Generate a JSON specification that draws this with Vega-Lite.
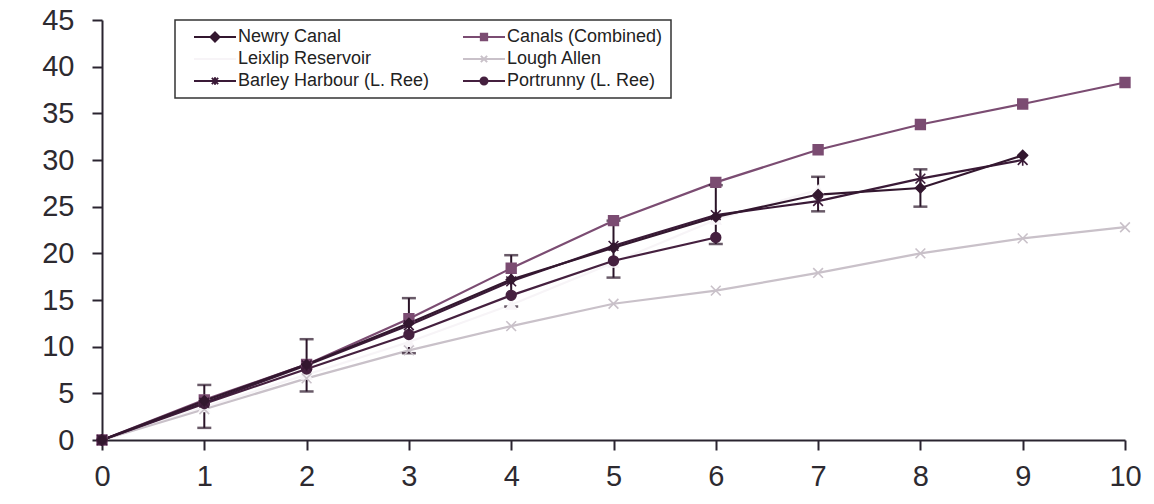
{
  "$schema": "https://vega.github.io/schema/vega-lite/v6.json",
  "width": 1023,
  "height": 420,
  "autosize": {"type": "none"},
  "padding": {"left": 102, "top": 20, "right": 29, "bottom": 64},
  "background": "white",
  "config": {
    "view": {"stroke": null},
    "font": "Liberation Sans",
    "axis": {
      "grid": false,
      "title": null,
      "domainColor": "#2a2430",
      "domainWidth": 2,
      "tickColor": "#2a2430",
      "tickWidth": 2,
      "tickSize": 10,
      "labelFont": "Liberation Sans",
      "labelFontSize": 29,
      "labelColor": "#2d2a30",
      "labelFlush": false,
      "labelOverlap": false
    },
    "legend": {"strokeWidth": 1.5}
  },
  "resolve": {
    "scale": {"shape": "independent"},
    "legend": {"color": "independent", "shape": "independent", "stroke": "independent"}
  },
  "datasets": {
    "series": [
      {"series": "Leixlip Reservoir", "x": 0, "y": 0},
      {"series": "Leixlip Reservoir", "x": 1, "y": 3.5},
      {"series": "Leixlip Reservoir", "x": 2, "y": 7.0},
      {"series": "Leixlip Reservoir", "x": 3, "y": 10.5},
      {"series": "Leixlip Reservoir", "x": 4, "y": 14.5},
      {"series": "Leixlip Reservoir", "x": 5, "y": 19.0},
      {"series": "Leixlip Reservoir", "x": 6, "y": 23.6},
      {"series": "Leixlip Reservoir", "x": 7, "y": 26.8},
      {"series": "Lough Allen", "x": 0, "y": 0},
      {"series": "Lough Allen", "x": 1, "y": 3.3},
      {"series": "Lough Allen", "x": 2, "y": 6.6},
      {"series": "Lough Allen", "x": 3, "y": 9.6},
      {"series": "Lough Allen", "x": 4, "y": 12.2},
      {"series": "Lough Allen", "x": 5, "y": 14.6},
      {"series": "Lough Allen", "x": 6, "y": 16.0},
      {"series": "Lough Allen", "x": 7, "y": 17.9},
      {"series": "Lough Allen", "x": 8, "y": 20.0},
      {"series": "Lough Allen", "x": 9, "y": 21.6},
      {"series": "Lough Allen", "x": 10, "y": 22.8},
      {"series": "Canals (Combined)", "x": 0, "y": 0},
      {"series": "Canals (Combined)", "x": 1, "y": 4.3},
      {"series": "Canals (Combined)", "x": 2, "y": 8.1},
      {"series": "Canals (Combined)", "x": 3, "y": 13.0},
      {"series": "Canals (Combined)", "x": 4, "y": 18.4},
      {"series": "Canals (Combined)", "x": 5, "y": 23.5},
      {"series": "Canals (Combined)", "x": 6, "y": 27.6},
      {"series": "Canals (Combined)", "x": 7, "y": 31.1},
      {"series": "Canals (Combined)", "x": 8, "y": 33.8},
      {"series": "Canals (Combined)", "x": 9, "y": 36.0},
      {"series": "Canals (Combined)", "x": 10, "y": 38.3},
      {"series": "Portrunny (L. Ree)", "x": 0, "y": 0},
      {"series": "Portrunny (L. Ree)", "x": 1, "y": 3.9},
      {"series": "Portrunny (L. Ree)", "x": 2, "y": 7.6},
      {"series": "Portrunny (L. Ree)", "x": 3, "y": 11.3},
      {"series": "Portrunny (L. Ree)", "x": 4, "y": 15.5},
      {"series": "Portrunny (L. Ree)", "x": 5, "y": 19.2},
      {"series": "Portrunny (L. Ree)", "x": 6, "y": 21.7},
      {"series": "Barley Harbour (L. Ree)", "x": 0, "y": 0},
      {"series": "Barley Harbour (L. Ree)", "x": 1, "y": 4.0},
      {"series": "Barley Harbour (L. Ree)", "x": 2, "y": 8.0},
      {"series": "Barley Harbour (L. Ree)", "x": 3, "y": 12.3},
      {"series": "Barley Harbour (L. Ree)", "x": 4, "y": 17.0},
      {"series": "Barley Harbour (L. Ree)", "x": 5, "y": 20.8},
      {"series": "Barley Harbour (L. Ree)", "x": 6, "y": 24.1},
      {"series": "Barley Harbour (L. Ree)", "x": 7, "y": 25.6},
      {"series": "Barley Harbour (L. Ree)", "x": 8, "y": 28.0},
      {"series": "Barley Harbour (L. Ree)", "x": 9, "y": 30.0},
      {"series": "Newry Canal", "x": 0, "y": 0},
      {"series": "Newry Canal", "x": 1, "y": 4.2},
      {"series": "Newry Canal", "x": 2, "y": 8.1},
      {"series": "Newry Canal", "x": 3, "y": 12.5},
      {"series": "Newry Canal", "x": 4, "y": 17.2},
      {"series": "Newry Canal", "x": 5, "y": 20.6},
      {"series": "Newry Canal", "x": 6, "y": 23.9},
      {"series": "Newry Canal", "x": 7, "y": 26.3},
      {"series": "Newry Canal", "x": 8, "y": 27.0},
      {"series": "Newry Canal", "x": 9, "y": 30.5}
    ],
    "err": [
      {"x": 1, "lo": 1.3, "hi": 5.9},
      {"x": 2, "lo": 5.2, "hi": 10.8},
      {"x": 3, "lo": 9.3, "hi": 15.2},
      {"x": 4, "lo": 14.3, "hi": 19.8},
      {"x": 5, "lo": 17.4, "hi": 23.5},
      {"x": 6, "lo": 21.0, "hi": 27.3},
      {"x": 7, "lo": 24.5, "hi": 28.2},
      {"x": 8, "lo": 25.0, "hi": 29.0}
    ]
  },
  "layer": [
    {
      "data": {"name": "series"},
      "mark": {"type": "line", "strokeWidth": 2.2},
      "encoding": {
        "x": {"field": "x", "type": "quantitative", "scale": {"domain": [0, 10], "nice": false},
              "axis": {"values": [0,1,2,3,4,5,6,7,8,9,10], "format": "d", "labelPadding": 12}},
        "y": {"field": "y", "type": "quantitative", "scale": {"domain": [0, 45], "nice": false},
              "axis": {"values": [0,5,10,15,20,25,30,35,40,45], "format": "d", "labelPadding": 18}},
        "color": {"field": "series", "type": "nominal", "legend": null,
          "scale": {
            "domain": ["Newry Canal", "Leixlip Reservoir", "Barley Harbour (L. Ree)", "Canals (Combined)", "Lough Allen", "Portrunny (L. Ree)"],
            "range": ["#33172f", "#f7f4f7", "#3a1a37", "#7b4c72", "#c9c1c9", "#45203f"]
          }},
        "order": {"field": "x", "type": "quantitative"}
      }
    },
    {
      "data": {"name": "err"},
      "mark": {"type": "rule", "color": "#2a1428", "strokeWidth": 2},
      "encoding": {
        "x": {"field": "x", "type": "quantitative"},
        "y": {"field": "lo", "type": "quantitative"},
        "y2": {"field": "hi"}
      }
    },
    {
      "data": {"name": "err"},
      "mark": {"type": "tick", "orient": "horizontal", "color": "#2a1428", "size": 14, "thickness": 2.5},
      "encoding": {
        "x": {"field": "x", "type": "quantitative"},
        "y": {"field": "lo", "type": "quantitative"}
      }
    },
    {
      "data": {"name": "err"},
      "mark": {"type": "tick", "orient": "horizontal", "color": "#2a1428", "size": 14, "thickness": 2.5},
      "encoding": {
        "x": {"field": "x", "type": "quantitative"},
        "y": {"field": "hi", "type": "quantitative"}
      }
    },
    {
      "data": {"name": "series"},
      "mark": {"type": "point", "filled": true, "size": 95, "strokeWidth": 1.6, "opacity": 1},
      "encoding": {
        "x": {"field": "x", "type": "quantitative"},
        "y": {"field": "y", "type": "quantitative"},
        "color": {"field": "series", "type": "nominal", "legend": null},
        "stroke": {"field": "series", "type": "nominal", "legend": null,
          "scale": {
            "domain": ["Newry Canal", "Leixlip Reservoir", "Barley Harbour (L. Ree)", "Canals (Combined)", "Lough Allen", "Portrunny (L. Ree)"],
            "range": ["#33172f", "#f7f4f7", "#3a1a37", "#7b4c72", "#c9c1c9", "#45203f"]
          }},
        "shape": {"field": "series", "type": "nominal", "legend": null,
          "scale": {
            "domain": ["Newry Canal", "Leixlip Reservoir", "Barley Harbour (L. Ree)", "Canals (Combined)", "Lough Allen", "Portrunny (L. Ree)"],
            "range": ["diamond", "triangle-up", "M-1,-1L1,1M-1,1L1,-1M0,-1.2V1.2", "square", "M-1,-1L1,1M-1,1L1,-1", "circle"]
          }}
      }
    },
    {
      "data": {"name": "series"},
      "transform": [{"filter": "datum.x < 0"}],
      "mark": {"type": "point", "filled": true, "strokeWidth": 2, "opacity": 1},
      "encoding": {
        "x": {"field": "x", "type": "quantitative"},
        "y": {"field": "y", "type": "quantitative"},
        "color": {"field": "series", "type": "nominal",
          "legend": {
            "title": null,
            "orient": "none",
            "legendX": 73,
            "legendY": 0,
            "columns": 2,
            "columnPadding": 22,
            "rowPadding": 4,
            "padding": 8,
            "strokeColor": "#333333",
            "symbolSize": 196,
            "symbolOffset": 23,
            "symbolStrokeWidth": 2,
            "symbolOpacity": 1,
            "labelOffset": 14,
            "labelLimit": 400,
            "labelFont": "Liberation Sans",
            "labelFontSize": 18,
            "labelColor": "#222222"
          }},
        "stroke": {"field": "series", "type": "nominal"},
        "shape": {"field": "series", "type": "nominal",
          "scale": {
            "domain": ["Newry Canal", "Leixlip Reservoir", "Barley Harbour (L. Ree)", "Canals (Combined)", "Lough Allen", "Portrunny (L. Ree)"],
            "range": [
              "M-3,0H3M0,-0.65L0.65,0L0,0.65L-0.65,0Z",
              "M-3,0H3",
              "M-3,0H3M-0.45,-0.45L0.45,0.45M-0.45,0.45L0.45,-0.45M0,-0.55V0.55",
              "M-3,0H3M-0.45,-0.45H0.45V0.45H-0.45Z",
              "M-3,0H3M-0.45,-0.45L0.45,0.45M-0.45,0.45L0.45,-0.45",
              "M-3,0H3M0.5,0A0.5,0.5,0,1,1,-0.5,0A0.5,0.5,0,1,1,0.5,0Z"
            ]
          }}
      }
    }
  ]
}
